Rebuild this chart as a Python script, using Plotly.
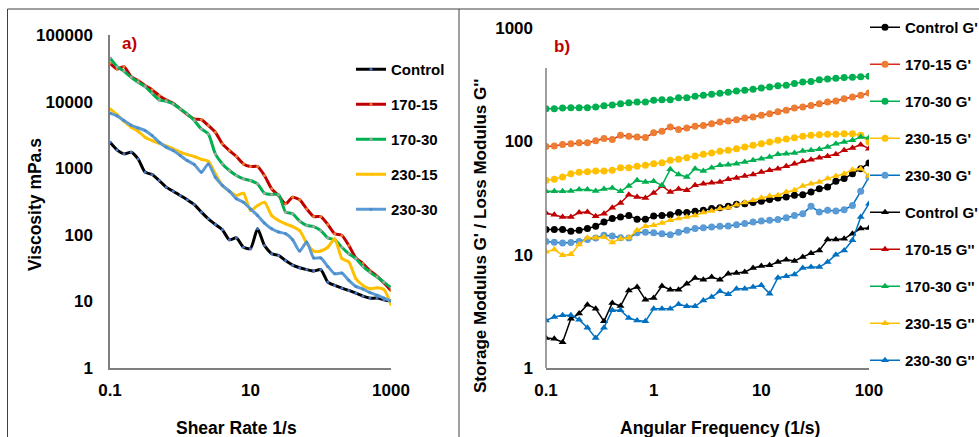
import plotly.graph_objects as go

# ---------------- Panel a) viscosity vs shear rate ----------------
shear_rate = [0.1, 0.126, 0.158, 0.2, 0.251, 0.316, 0.398, 0.501, 0.631, 0.794,
              1, 1.26, 1.58, 2.0, 2.51, 3.16, 3.98, 5.01, 6.31, 7.94,
              10, 12.6, 15.8, 20.0, 25.1, 31.6, 39.8, 50.1, 63.1, 79.4,
              100, 126, 158, 200, 251, 316, 398, 501, 631, 794, 1000]

visc_control = [2455, 1884, 1641, 1738, 1380, 871, 804, 653, 519, 452,
                389, 335, 285, 219, 174, 143, 119, 84, 90, 65,
                62, 123, 69, 52, 49, 41, 35, 32, 30, 28.5,
                30, 19.5, 17.4, 15.8, 14.6, 13.3, 12.0, 11.2, 11.2, 10.6, 10.0]
visc_170_15 = [37600, 30900, 33500, 23700, 20700, 17400, 15000, 12300, 10600, 9440,
               7760, 6380, 5500, 5370, 4370, 3470, 2320, 1840, 1500, 1160,
               1060, 1060, 776, 490, 389, 292, 367, 335, 245, 188,
               188, 143, 104, 98, 69, 45, 37, 29, 24, 19, 14.6]
visc_170_30 = [45200, 33500, 28500, 23200, 19500, 16800, 13300, 10600, 10100, 9230,
               7760, 6530, 5190, 3890, 3270, 1640, 1160, 923, 776, 692,
               653, 582, 422, 403, 403, 219, 207, 160, 138, 133,
               116, 90, 84, 65, 52, 44, 33.5, 27.5, 23.2, 19.5, 16.0]
visc_230_15 = [7760, 6380, 5070, 4120, 3590, 2920, 2600, 2370, 2160, 1950,
               1740, 1600, 1500, 1360, 1270, 822, 550, 452, 389, 422,
               232, 275, 309, 195, 164, 146, 133, 116, 75, 57,
               57, 65, 87, 44, 39, 22, 17.4, 15.5, 16.0, 15.0, 9.0]
visc_230_30 = [6680, 6100, 5190, 4420, 4030, 3670, 3090, 2450, 2070, 1840,
               1550, 1300, 1140, 871, 1160, 733, 550, 452, 347, 309,
               245, 195, 150, 123, 110, 104, 84, 57, 78, 45,
               45, 33.5, 26, 26.6, 20.7, 16.8, 15.3, 13.6, 12.4, 11.2, 10.1]

# ---------------- Panel b) moduli vs angular frequency ----------------
ang_freq = [0.1, 0.1194, 0.1426, 0.1703, 0.2031, 0.2425, 0.2894, 0.3455, 0.4125, 0.4924,
            0.5878, 0.7017, 0.8377, 1.0, 1.194, 1.426, 1.703, 2.031, 2.425, 2.894,
            3.455, 4.125, 4.924, 5.878, 7.017, 8.377, 10, 11.94, 14.26, 17.03,
            20.31, 24.25, 28.94, 34.55, 41.25, 49.24, 58.78, 70.17, 83.77, 100]

gp_control = [16.7, 16.7, 16.7, 16.1, 16.4, 17, 17.8, 19.4, 20.8, 21.5,
              22.2, 20.5, 20.5, 21.9, 22.2, 22.5, 23.5, 23.5, 24.1, 24.6,
              25.5, 26, 26.7, 27.8, 28.2, 28.8, 29.6, 30.6, 31.6, 32.3,
              33.4, 33.8, 35.7, 38.2, 39.5, 44.4, 46.9, 51.8, 57.4, 64.4]
gp_170_15 = [90, 91, 94, 95, 97, 97, 101, 106, 104, 113,
             111, 109, 108, 119, 123, 134, 127, 131, 136, 138,
             143, 148, 151, 155, 161, 164, 170, 175, 182, 188,
             197, 201, 207, 215, 222, 227, 238, 246, 255, 267]
gp_170_30 = [194, 194, 197, 198, 198, 198, 201, 206, 209, 215,
             219, 222, 222, 230, 233, 233, 243, 243, 250, 255,
             260, 265, 271, 278, 282, 288, 296, 302, 310, 312,
             323, 334, 338, 350, 355, 360, 365, 367, 372, 375]
gp_230_15 = [45.3, 46.2, 48.5, 51.8, 53.3, 54, 54.7, 54.7, 55.5, 58.6,
             58.6, 60.2, 61.4, 63.5, 64.8, 68, 69.4, 71.8, 74.3, 76.8,
             78.9, 81.6, 83.3, 86.1, 89.1, 92.2, 95.4, 98.6, 102, 104.9,
             107.8, 110.7, 113, 114.5, 115.3, 115.3, 116.9, 116.9, 113, 98.6]
gp_230_30 = [13.1, 12.9, 12.7, 12.8, 13.1, 13.6, 14, 14.8, 14.6, 14.1,
             14, 15.6, 15.8, 15.6, 15.3, 15, 15.8, 16.4, 17, 17.3,
             17.5, 17.8, 17.9, 18.4, 18.8, 19.4, 19.8, 20.1, 20.4, 21.2,
             22.2, 23, 26.7, 23.8, 24.6, 24.3, 24.9, 27.2, 36.2, 48.4]
gpp_control = [1.84, 1.81, 1.69, 2.72, 3.02, 3.62, 3.34, 2.58, 3.75, 3.52,
               4.84, 5.19, 4.01, 4.15, 5.29, 4.91, 4.91, 5.55, 6.22, 6.02,
               6.35, 6.02, 6.8, 6.89, 7.03, 7.63, 7.94, 8.05, 8.61, 9.04,
               8.79, 9.53, 10.3, 10.9, 13.6, 13.6, 13.8, 15.3, 17, 17.2]
gpp_170_15 = [23.3, 22.5, 21.5, 21.5, 23.5, 23.8, 21.8, 23, 26, 28.6,
              33.8, 32.3, 31.6, 35, 40.4, 35.7, 37.9, 37, 40.9, 42.3,
              43.2, 43.8, 46.2, 47.5, 49.4, 51.1, 53.6, 55.5, 57.4, 60.2,
              63.5, 66.6, 68.9, 71.8, 73.7, 76.8, 83.3, 87.3, 93.5, 86.1]
gpp_170_30 = [36.2, 36.2, 36.2, 36.5, 37.5, 37.5, 36.5, 37.9, 38.7, 36.2,
              40.4, 45.3, 43.8, 44.4, 40.9, 56.6, 51.1, 48.4, 57.4, 54.7,
              58.6, 61.4, 62.2, 63.5, 65.7, 68, 70.3, 72.8, 76.8, 77.8,
              78.9, 82.2, 83.3, 85, 89.1, 95.4, 98.6, 102, 109.2, 107.8]
gpp_230_15 = [10.6, 11.1, 9.9, 10.1, 12.3, 14.1, 14.1, 14.3, 12.8, 13.8,
              14.1, 16.4, 17.8, 18.2, 19, 20.1, 20.8, 21.5, 22.2, 23.5,
              24.3, 25.5, 26, 27.6, 28.8, 30.2, 31.8, 33, 33.4, 35.7,
              37, 40.4, 42.3, 43.8, 46.9, 49.4, 51.8, 56.2, 57.4, 49.4]
gpp_230_30 = [2.63, 2.82, 2.92, 2.92, 2.67, 2.27, 1.84, 2.27, 3.23, 3.23,
              2.76, 2.63, 2.58, 3.34, 3.34, 3.34, 3.65, 3.5, 3.5, 3.95,
              4.23, 4.75, 4.47, 5.01, 5.01, 5.19, 5.36, 4.53, 6.27, 6.44,
              6.7, 7.63, 7.78, 7.78, 8.61, 10, 10.9, 13.4, 21.5, 28.2]

W, H = 979, 437
FONT = "Liberation Sans, Arial, sans-serif"


def px_x(p):
    return p / W


def px_y(p):
    return 1 - p / H


fig = go.Figure()

left_series = [
    ("Control", visc_control, "#000000", "#4472C4"),
    ("170-15", visc_170_15, "#C00000", "#ED7D31"),
    ("170-30", visc_170_30, "#00B050", "#A5A5A5"),
    ("230-15", visc_230_15, "#FFC000", "#FFC000"),
    ("230-30", visc_230_30, "#5B9BD5", "#4A8AC8"),
]
for name, vals, lc, mc in left_series:
    fig.add_trace(go.Scatter(
        x=shear_rate, y=vals, name=name, mode="lines+markers",
        line=dict(color=lc, width=3, shape="spline", smoothing=0.6),
        marker=dict(color=mc, size=3, symbol="circle"),
        xaxis="x", yaxis="y", legend="legend", legendgroup="a" + name,
    ))

right_series = [
    ("Control G'", gp_control, "#000000", "#000000", "circle"),
    ("170-15 G'", gp_170_15, "#E0281C", "#ED7D31", "circle"),
    ("170-30 G'", gp_170_30, "#00B050", "#00B050", "circle"),
    ("230-15 G'", gp_230_15, "#FFC000", "#FFC000", "circle"),
    ("230-30 G'", gp_230_30, "#0070C0", "#5B9BD5", "circle"),
    ("Control G'", gpp_control, "#000000", "#000000", "triangle-up"),
    ("170-15 G''", gpp_170_15, "#C00000", "#C00000", "triangle-up"),
    ("170-30 G''", gpp_170_30, "#00B050", "#00B050", "triangle-up"),
    ("230-15 G''", gpp_230_15, "#FFC000", "#FFC000", "triangle-up"),
    ("230-30 G''", gpp_230_30, "#0070C0", "#0070C0", "triangle-up"),
]
for i, (name, vals, lc, mc, sym) in enumerate(right_series):
    fig.add_trace(go.Scatter(
        x=ang_freq, y=vals, name=name, mode="lines+markers",
        line=dict(color=lc, width=1.5),
        marker=dict(color=mc, size=7, symbol=sym),
        xaxis="x2", yaxis="y2", legend="legend2", legendgroup="b%d" % i,
    ))

tickfont = dict(family=FONT, size=17, color="#000000", weight="bold")
axis_common = dict(type="log", showgrid=False, zeroline=False, ticks="",
                   tickfont=tickfont, linecolor="#7F7F7F", linewidth=1.5,
                   automargin=False)

# panel geometry (pixels)
aL, aR, aT, aB = 110, 391, 35, 368
bL, bR, bT, bB = 546, 869, 28, 368

fig.update_layout(
    width=W, height=H,
    margin=dict(l=0, r=0, t=0, b=0, autoexpand=False),
    paper_bgcolor="white", plot_bgcolor="white",
    font=dict(family=FONT, color="#000000"),
    xaxis=dict(axis_common, domain=[px_x(aL), px_x(aR)], range=[-1, 3],
               tickvals=[0.1, 10, 1000], ticktext=["0.1", "10", "1000"],
               showline=True, anchor="y", ticklabelstandoff=6),
    yaxis=dict(axis_common, domain=[px_y(aB), px_y(aT)], range=[0, 5],
               tickvals=[1, 10, 100, 1000, 10000, 100000],
               ticktext=["1", "10", "100", "1000", "10000", "100000"],
               showline=True, anchor="x", ticklabelstandoff=12),
    xaxis2=dict(axis_common, domain=[px_x(bL), px_x(bR)], range=[-1, 2],
                tickvals=[0.1, 1, 10, 100], ticktext=["0.1", "1", "10", "100"],
                showline=True, anchor="y2", ticklabelstandoff=6),
    yaxis2=dict(axis_common, domain=[px_y(bB), px_y(bT)], range=[0, 3],
                tickvals=[1, 10, 100, 1000], ticktext=["1", "10", "100", "1000"],
                showline=False, anchor="x2", ticklabelstandoff=12),
    legend=dict(x=px_x(351), y=px_y(53), xanchor="left", yanchor="top",
                font=dict(family=FONT, size=15, color="#000000", weight="bold"),
                bgcolor="rgba(0,0,0,0)", tracegroupgap=12.5, itemwidth=30),
    legend2=dict(x=px_x(865), y=px_y(11), xanchor="left", yanchor="top",
                 font=dict(family=FONT, size=15, color="#000000", weight="bold"),
                 bgcolor="rgba(0,0,0,0)", tracegroupgap=14.5, itemwidth=30),
    showlegend=True,
)

annos = [
    dict(text="a)", x=px_x(129), y=px_y(43), font=dict(size=17, color="#C00000", weight="bold")),
    dict(text="b)", x=px_x(562), y=px_y(46), font=dict(size=17, color="#C00000", weight="bold")),
    dict(text="Viscosity mPa.s", x=px_x(35), y=px_y(205), textangle=-90,
         font=dict(size=17.5, weight="bold")),
    dict(text="Shear Rate 1/s", x=px_x(236), y=px_y(428),
         font=dict(size=17.5, weight="bold")),
    dict(text="Storage Modulus G' / Loss Modulus G''", x=px_x(480), y=px_y(236), textangle=-90,
         font=dict(size=17, weight="bold")),
    dict(text="Angular Frequency (1/s)", x=px_x(720), y=px_y(428),
         font=dict(size=17.5, weight="bold")),
]
for a in annos:
    a.update(xref="paper", yref="paper", showarrow=False, xanchor="center", yanchor="middle")
    a["font"].update(family=FONT, color=a["font"].get("color", "#000000"))
    fig.add_annotation(**a)

# frame lines and right-panel value axis line
frame = dict(color="#404040", width=1)
fig.add_shape(type="line", xref="paper", yref="paper", x0=px_x(7.5), x1=1, y0=px_y(9), y1=px_y(9), line=frame)
fig.add_shape(type="line", xref="paper", yref="paper", x0=px_x(7.5), x1=px_x(7.5), y0=px_y(9), y1=0, line=frame)
fig.add_shape(type="line", xref="paper", yref="paper", x0=px_x(459), x1=px_x(459), y0=px_y(9), y1=0, line=frame)
fig.add_shape(type="line", xref="paper", yref="paper", x0=px_x(bL), x1=px_x(bL), y0=px_y(bB), y1=px_y(68),
              line=dict(color="#7F7F7F", width=1.5))

fig.write_html("out.html", config={"displayModeBar": False},
               post_script="document.body.style.margin='0';document.body.style.overflow='hidden';")
